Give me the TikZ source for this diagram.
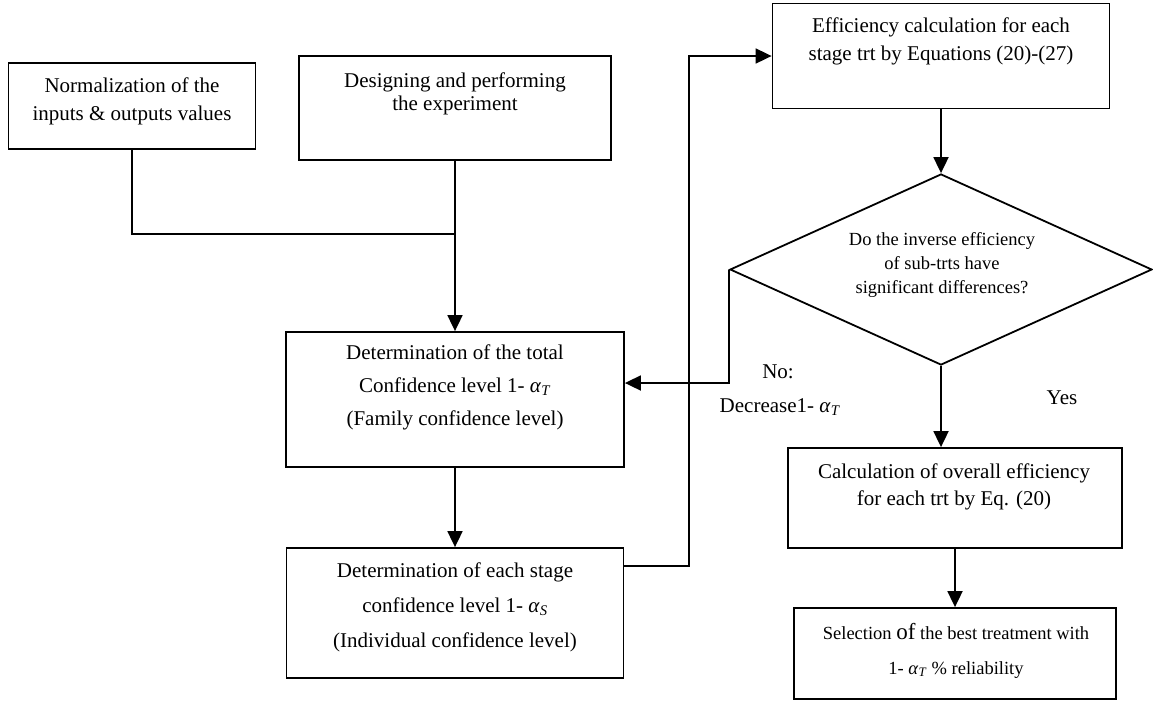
\documentclass[tikz,border=0pt]{standalone}
\usepackage{fontspec}
\setmainfont{Liberation Serif}
\usetikzlibrary{arrows.meta,shapes.geometric}
\newcommand{\alf}[1]{\textit{α}\textsubscript{\textit{#1}}}
\begin{document}
\begin{tikzpicture}[x=1pt,y=-1pt,
      line width=1.8pt,
      box/.style={draw,inner sep=0pt},
      txt/.style={align=center,font=\fontsize{21}{28}\selectfont},
      arr/.style={-{Triangle[length=16pt,width=15pt]}}]
      \useasboundingbox (0,0) rectangle (1153,702);
      \path (132,106) node[box,minimum width=247pt,minimum height=86pt] (norm) {};
      \path (455,108) node[box,minimum width=312pt,minimum height=104pt] (design) {};
      \path (941,56) node[box,minimum width=337pt,minimum height=105pt] (eff) {};
      \path (941,269.5) node[box,diamond,minimum width=422pt,minimum height=191pt] (ask) {};
      \path (455,399.5) node[box,minimum width=338pt,minimum height=135pt] (conf) {};
      \path (455,613) node[box,minimum width=337pt,minimum height=130pt] (stage) {};
      \path (955,498) node[box,minimum width=334pt,minimum height=100pt] (calc) {};
      \path (955,653.5) node[box,minimum width=322pt,minimum height=91pt] (sel) {};
      \path (132,101) node[txt] (normtxt) {Normalization of the\\inputs \& outputs values};
      \path (455,94) node[txt,font=\fontsize{21}{23}\selectfont] (designtxt) {Designing and performing\\the experiment};
      \path (941,41) node[txt] (efftxt) {Efficiency calculation for each\\stage trt by Equations (20)-(27)};
      \path (942,264.5) node[txt,font=\fontsize{18.5}{24}\selectfont] (asktxt) {Do the inverse efficiency\\of sub-trts have\\significant differences?};
      \path (455,387.5) node[txt,font=\fontsize{21}{33}\selectfont] (conftxt) {Determination of the total\\Confidence level 1- \alf{T}\\(Family confidence level)};
      \path (455,607) node[txt,font=\fontsize{21}{35}\selectfont] (stagetxt) {Determination of each stage\\confidence level 1- \alf{S}\\(Individual confidence level)};
      \path (954,486.5) node[txt,font=\fontsize{21}{27}\selectfont] (calctxt) {Calculation of overall efficiency\\for each trt by Eq. (20)};
      \path (956,650.5) node[txt,font=\fontsize{18.5}{35}\selectfont] (seltxt) {Selection {\fontsize{23}{35}\selectfont of} the best treatment with\\1- \alf{T} \% reliability};
      \path (778,372) node[txt] (no) {No:};
      \path (780,407) node[txt] (dec) {Decrease1- \alf{T}};
      \path (1062,398) node[txt] (yes) {Yes};
      \coordinate (join) at (455,234);
      \draw (norm.south) |- (join) -- (design.south);
      \draw[arr] (join) -- (conf.north);
      \draw[arr] (conf.south) -- (stage.north);
      \draw[arr] ([yshift=-19pt]stage.north east) -- ++(64.5,0) |- (eff.west);
      \draw[arr] (eff.south) -- (ask.north);
      \draw[arr] (ask.west) |- ([yshift=16.5pt]conf.east);
      \draw[arr] (ask.south) -- (ask.south |- calc.north);
      \draw[arr] (calc.south) -- (sel.north);
     \end{tikzpicture}
\end{document}
